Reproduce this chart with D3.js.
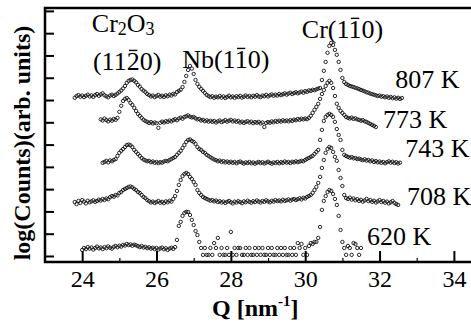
<!DOCTYPE html>
<html>
<head>
<meta charset="utf-8">
<script src="https://cdn.jsdelivr.net/npm/d3@7"></script>
<style>
  body { margin: 0; background: #fff; }
  svg { display: block; }
</style>
</head>
<body>
<svg id="chart" width="471" height="324"></svg>
<script>
// scan grid step in Q (nm^-1), every series starts at its own Q
const qStep = 0.05;

const temperatures = ['807 K', '773 K', '743 K', '708 K', '620 K'];
const qStart = [23.80, 24.50, 24.55, 23.80, 24.00];

// log(counts), arbitrary units with offsets
const counts807 = [
  7.10, 7.18, 7.22, 7.15, 7.20, 7.13, 7.19, 7.24, 7.16, 7.21,
  7.14, 7.22, 7.27, 7.19, 7.25, 7.30, 7.21, 7.17, 7.12, 7.20,
  7.24, 7.18, 7.23, 7.29, 7.36, 7.43, 7.52, 7.63, 7.77, 7.86,
  7.90, 7.92, 7.86, 7.79, 7.68, 7.60, 7.49, 7.42, 7.36, 7.27,
  7.22, 7.16, 7.20, 7.13, 7.18, 7.23, 7.15, 7.19, 7.14, 7.21,
  7.17, 7.24, 7.20, 7.28, 7.25, 7.36, 7.41, 7.46, 7.58, 7.81,
  8.08, 8.35, 8.53, 8.41, 8.17, 7.90, 7.72, 7.59, 7.50, 7.41,
  7.32, 7.23, 7.18, 7.13, 7.17, 7.10, 7.15, 7.12, 7.18, 7.11,
  7.16, 7.09, 7.14, 7.19, 7.12, 7.16, 7.10, 7.17, 7.13, 7.19,
  7.11, 7.15, 7.20, 7.14, 7.18, 7.12, 7.19, 7.15, 7.22, 7.16,
  7.13, 7.20, 7.17, 7.23, 7.16, 7.21, 7.25, 7.19, 7.24, 7.20,
  7.27, 7.22, 7.26, 7.30, 7.24, 7.29, 7.33, 7.27, 7.31, 7.35,
  7.30, 7.34, 7.38, 7.33, 7.40, 7.37, 7.43, 7.41, 7.46, 7.44,
  7.48, 7.51, 7.54, 7.90, 8.31, 8.71, 9.12, 9.43, 9.56, 9.47,
  9.25, 9.03, 8.71, 8.35, 7.99, 7.81, 7.72, 7.68, 7.63, 7.61,
  7.58, 7.55, 7.52, 7.49, 7.45, 7.42, 7.39, 7.35, 7.33, 7.29,
  7.26, 7.24, 7.21, 7.18, 7.20, 7.15, 7.17, 7.12, 7.16, 7.10,
  7.14, 7.08, 7.12, 7.06, 7.10, 7.05, 7.09
];
const counts773 = [
  6.13, 6.08, 6.17, 6.10, 6.04, 6.12, 6.07, 6.15, 6.11, 6.20,
  6.47, 6.74, 6.96, 7.05, 7.09, 7.00, 6.87, 6.78, 6.65, 6.51,
  6.38, 6.29, 6.20, 6.11, 6.06, 6.02, 5.97, 6.01, 5.95, 5.99,
  5.96, 5.75, 5.98, 6.03, 5.99, 6.05, 6.02, 6.08, 6.04, 6.10,
  6.14, 6.09, 6.17, 6.21, 6.16, 6.24, 6.27, 6.31, 6.25, 6.22,
  6.24, 6.18, 6.13, 6.15, 6.08, 6.11, 6.05, 6.09, 6.03, 6.07,
  6.02, 6.06, 5.99, 6.04, 6.08, 6.01, 6.05, 6.10, 6.03, 6.07,
  6.11, 6.04, 6.08, 6.02, 6.06, 5.99, 6.03, 5.97, 6.02, 6.05,
  5.99, 6.03, 5.96, 6.01, 5.98, 6.02, 5.95, 5.99, 5.79, 5.97,
  6.01, 5.98, 6.04, 6.00, 6.06, 6.02, 6.07, 6.03, 6.09, 6.05,
  6.08, 6.04, 6.10, 6.06, 6.12, 6.09, 6.15, 6.11, 6.16, 6.13,
  6.17, 6.14, 6.20, 6.29, 6.42, 6.56, 6.69, 6.83, 7.05, 7.27,
  7.45, 7.63, 7.77, 7.86, 7.77, 7.54, 7.18, 6.83, 6.65, 6.51,
  6.42, 6.33, 6.24, 6.20, 6.17, 6.21, 6.15, 6.18, 6.13, 6.11,
  6.07, 6.10, 6.04, 6.02, 5.97, 5.93, 5.88, 5.84, 5.79
];
const counts743 = [
  4.18, 4.22, 4.27, 4.20, 4.29, 4.25, 4.31, 4.35, 4.49, 4.63,
  4.72, 4.80, 4.89, 4.98, 5.00, 4.97, 4.89, 4.76, 4.67, 4.58,
  4.49, 4.40, 4.33, 4.29, 4.25, 4.27, 4.21, 4.24, 4.18, 4.22,
  4.17, 4.21, 4.19, 4.24, 4.27, 4.25, 4.31, 4.35, 4.40, 4.44,
  4.54, 4.63, 4.72, 4.85, 4.98, 5.12, 5.21, 5.23, 5.16, 5.12,
  5.03, 4.89, 4.80, 4.76, 4.67, 4.63, 4.54, 4.49, 4.43, 4.38,
  4.33, 4.30, 4.25, 4.28, 4.22, 4.26, 4.20, 4.24, 4.19, 4.23,
  4.18, 4.22, 4.16, 4.21, 4.24, 4.19, 4.15, 4.20, 4.17, 4.22,
  4.16, 4.20, 4.14, 4.19, 4.22, 4.17, 4.21, 4.15, 4.19, 4.23,
  4.18, 4.14, 4.20, 4.17, 4.22, 4.16, 4.21, 4.18, 4.24, 4.19,
  4.22, 4.17, 4.23, 4.20, 4.25, 4.21, 4.24, 4.27, 4.25, 4.31,
  4.36, 4.40, 4.45, 4.49, 4.58, 4.67, 4.76, 5.21, 5.66, 6.06,
  6.24, 6.33, 6.38, 6.33, 6.24, 6.02, 5.70, 5.43, 5.21, 4.76,
  4.54, 4.49, 4.45, 4.41, 4.44, 4.38, 4.40, 4.35, 4.37, 4.33,
  4.30, 4.34, 4.28, 4.31, 4.25, 4.29, 4.22, 4.26, 4.20, 4.24,
  4.18, 4.22, 4.16, 4.21, 4.25, 4.19, 4.23, 4.17, 4.21, 4.15,
  4.19
];
const counts708 = [
  2.42, 2.33, 2.47, 2.38, 2.51, 2.44, 2.36, 2.48, 2.41, 2.45,
  2.50, 2.43, 2.47, 2.53, 2.49, 2.56, 2.51, 2.58, 2.55, 2.64,
  2.69, 2.66, 2.74, 2.72, 2.83, 2.87, 2.96, 3.01, 3.05, 3.10,
  3.12, 3.08, 3.01, 2.96, 2.87, 2.83, 2.74, 2.65, 2.60, 2.51,
  2.46, 2.40, 2.44, 2.38, 2.42, 2.47, 2.39, 2.43, 2.37, 2.45,
  2.41, 2.48, 2.44, 2.56, 2.69, 2.92, 3.19, 3.41, 3.59, 3.68,
  3.73, 3.68, 3.55, 3.46, 3.32, 3.19, 2.96, 2.83, 2.74, 2.65,
  2.60, 2.56, 2.52, 2.48, 2.51, 2.45, 2.49, 2.42, 2.46, 2.40,
  2.44, 2.38, 2.43, 2.47, 2.41, 2.36, 2.44, 2.40, 2.46, 2.42,
  2.37, 2.45, 2.41, 2.48, 2.43, 2.39, 2.46, 2.42, 2.49, 2.44,
  2.40, 2.47, 2.43, 2.50, 2.45, 2.41, 2.48, 2.44, 2.51, 2.46,
  2.49, 2.45, 2.52, 2.47, 2.50, 2.54, 2.48, 2.53, 2.56, 2.51,
  2.55, 2.59, 2.54, 2.61, 2.58, 2.65, 2.69, 2.74, 2.83, 2.96,
  3.10, 3.28, 3.55, 3.95, 4.31, 4.63, 4.80, 4.89, 4.85, 4.67,
  4.45, 4.27, 3.86, 3.50, 3.14, 2.74, 2.60, 2.56, 2.62, 2.53,
  2.58, 2.50, 2.55, 2.47, 2.52, 2.44, 2.49, 2.56, 2.46, 2.51,
  2.43, 2.48, 2.40, 2.45, 2.51, 2.42, 2.47, 2.39, 2.44, 2.36,
  2.41, 2.47, 2.38, 2.33, 2.29
];
const counts620 = [
  0.27, 0.36, 0.31, 0.40, 0.33, 0.38, 0.29, 0.36, 0.42, 0.34,
  0.38, 0.31, 0.40, 0.35, 0.43, 0.37, 0.33, 0.41, 0.45, 0.39,
  0.46, 0.42, 0.50, 0.47, 0.54, 0.49, 0.52, 0.46, 0.51, 0.48,
  0.44, 0.40, 0.45, 0.38, 0.41, 0.35, 0.39, 0.33, 0.37, 0.31,
  0.36, 0.29, 0.34, 0.38, 0.30, 0.35, 0.27, 0.33, 0.37, 0.32,
  0.40, 0.72, 1.35, 1.53, 1.80, 1.93, 1.98, 1.98, 1.84, 1.62,
  1.39, 1.12, 0.94, 0.63, 0.36, 0.05, 0.36, 0.05, 0.05, 0.36,
  0.05, 0.58, 0.36, 0.81, 0.05, 0.36, 0.05, 0.05, 0.36, 0.05,
  1.08, 0.05, 0.36, 0.05, 0.36, 0.36, 0.05, 0.05, 0.36, 0.05,
  0.36, 0.05, 0.05, 0.36, 0.05, 0.36, 0.05, 0.36, 0.05, 0.05,
  0.36, 0.05, 0.36, 0.05, 0.05, 0.36, 0.05, 0.36, 0.05, 0.36,
  0.05, 0.05, 0.36, 0.05, 0.36, 0.05, 0.58, 0.36, 0.54, 0.05,
  0.36, 0.05, 0.45, 0.58, 0.54, 0.63, 0.63, 0.81, 1.30, 2.07,
  2.47, 2.69, 2.87, 2.96, 2.92, 2.78, 2.56, 2.29, 1.80, 1.17,
  0.63, 0.36, 0.05, 0.45, 0.36, 0.05, 0.58, 0.54, 0.36, 0.05,
  0.36
];

const xTicksMajor = [24, 26, 28, 30, 32, 34];
const xTicksMinor = [25, 27, 29, 31, 33];
const yTicks = [0, 1, 2, 3, 4, 5, 6, 7, 8, 9, 10, 11];

const seriesValues = [counts807, counts773, counts743, counts708, counts620];

const serif = "'Liberation Serif', 'Times New Roman', Times, serif";
const svg = d3.select('#chart');

const x = d3.scaleLinear().domain([23, 34.46]).range([45, 471]);
const y = d3.scaleLinear().domain([-0.27, 11.13]).range([262, 8]);

// x axis, ticks pointing inward
svg.append('g')
  .attr('transform', 'translate(0,262)')
  .call(d3.axisBottom(x).tickValues(xTicksMajor).tickSizeInner(-11).tickSizeOuter(0).tickPadding(8))
  .call(g => g.select('.domain').remove())
  .call(g => g.selectAll('.tick line').attr('stroke', '#000').attr('stroke-width', 2))
  .call(g => g.selectAll('.tick text')
    .attr('font-family', serif).attr('font-size', 24).attr('fill', '#000'));

svg.append('g')
  .attr('transform', 'translate(0,262)')
  .call(d3.axisBottom(x).tickValues(xTicksMinor).tickSizeInner(-4).tickSizeOuter(0).tickFormat(''))
  .call(g => g.select('.domain').remove())
  .call(g => g.selectAll('.tick line').attr('stroke', '#000').attr('stroke-width', 1.2));

svg.append('g')
  .attr('transform', 'translate(45,0)')
  .call(d3.axisLeft(y).tickValues(yTicks).tickSizeInner(-9).tickSizeOuter(0).tickFormat(''))
  .call(g => g.select('.domain').remove())
  .call(g => g.selectAll('.tick line').attr('stroke', '#000').attr('stroke-width', 2));

// frame (right edge falls outside the picture)
svg.append('path')
  .attr('d', 'M471,8H45V262H471')
  .attr('fill', 'none')
  .attr('stroke', '#000')
  .attr('stroke-width', 2.5);

// data points
seriesValues.forEach((vals, k) => {
  const pts = vals.map((v, i) => ({ q: qStart[k] + i * qStep, v: v }));
  svg.append('g')
    .attr('class', 'series')
    .selectAll('circle')
    .data(pts)
    .join('circle')
    .attr('cx', d => x(d.q))
    .attr('cy', d => y(d.v))
    .attr('r', 1.7)
    .attr('fill', 'none')
    .attr('stroke', '#111')
    .attr('stroke-width', 0.9);
});

// temperature labels, placed in data coordinates
const tempLabelAt = [[32.42, 7.54], [32.09, 5.75], [32.69, 4.45], [32.74, 2.29], [31.66, 0.49]];
temperatures.forEach((t, k) => {
  svg.append('text')
    .attr('x', x(tempLabelAt[k][0]))
    .attr('y', y(tempLabelAt[k][1]))
    .attr('font-family', serif)
    .attr('font-size', 26)
    .text(t);
});

function label(q, v, str) {
  return svg.append('text')
    .attr('x', x(q))
    .attr('y', y(v))
    .attr('font-family', serif)
    .attr('font-size', 26)
    .text(str);
}

function overbar(t, idx) {
  const b = t.node().getExtentOfChar(idx);
  svg.append('line')
    .attr('x1', b.x + b.width * 0.18)
    .attr('x2', b.x + b.width * 0.82)
    .attr('y1', b.y + 3.5)
    .attr('y2', b.y + 3.5)
    .attr('stroke', '#000')
    .attr('stroke-width', 1.4);
}

// peak labels
const cr2o3 = svg.append('text')
  .attr('x', x(24.26)).attr('y', y(10.06))
  .attr('font-family', serif).attr('font-size', 26);
cr2o3.append('tspan').text('Cr');
cr2o3.append('tspan').attr('font-size', 18).attr('dy', 3).text('2');
cr2o3.append('tspan').attr('dy', -3).text('O');
cr2o3.append('tspan').attr('font-size', 18).attr('dy', 3).text('3');

overbar(label(24.29, 8.35, '(1120)'), 3);
overbar(label(26.69, 8.44, 'Nb(110)'), 4);
overbar(label(29.91, 9.79, 'Cr(110)'), 4);

// axis titles
const xt = svg.append('text')
  .attr('x', 212).attr('y', 316)
  .attr('font-family', serif).attr('font-size', 24).attr('font-weight', 'bold');
xt.append('tspan').text('Q [nm');
xt.append('tspan').attr('font-size', 15).attr('dy', -10).text('-1');
xt.append('tspan').attr('dy', 10).text(']');

svg.append('text')
  .attr('transform', 'translate(30,143) rotate(-90)')
  .attr('text-anchor', 'middle')
  .attr('font-family', serif)
  .attr('font-size', 24)
  .attr('font-weight', 'bold')
  .text('log(Counts)(arb. units)');
</script>
</body>
</html>
